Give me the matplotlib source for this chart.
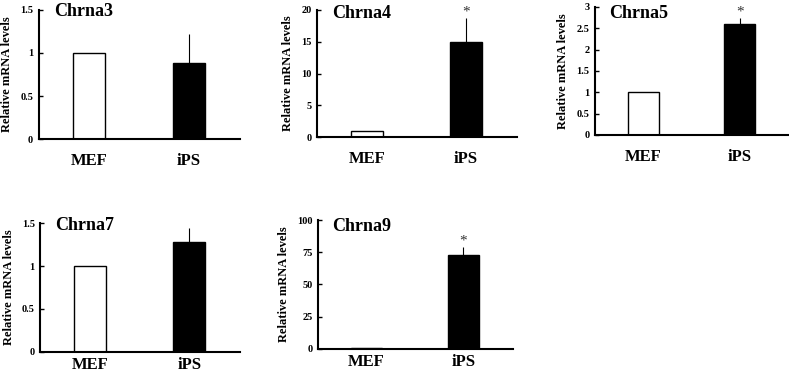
import matplotlib.pyplot as plt

# ===== data =====
genes = ["Chrna3", "Chrna4", "Chrna5", "Chrna7", "Chrna9"]
groups = ["MEF", "iPS"]
mef_values = [1.0, 1.0, 1.0, 1.0, 1.0]
ips_values = [0.88, 15.0, 2.6, 1.28, 72.5]
ips_errors = [0.34, 3.7, 0.13, 0.16, 6.5]
significant = [False, True, True, False, True]
y_max = [1.5, 20, 3, 1.5, 100]
y_ticks = [
    [0, 0.5, 1, 1.5],
    [0, 5, 10, 15, 20],
    [0, 0.5, 1, 1.5, 2, 2.5, 3],
    [0, 0.5, 1, 1.5],
    [0, 25, 50, 75, 100],
]
y_ticklabels = [
    ["0", "0.5", "1", "1.5"],
    ["0", "5", "10", "15", "20"],
    ["0", "0.5", "1", "1.5", "2", "2.5", "3"],
    ["0", "0.5", "1", "1.5"],
    ["0", "25", "50", "75", "100"],
]

# axes rectangles in figure fraction (left, bottom, width, height)
boxes = [
    [0.049, 0.634, 0.255, 0.340],
    [0.402, 0.639, 0.253, 0.335],
    [0.754, 0.645, 0.246, 0.337],
    [0.051, 0.074, 0.253, 0.339],
    [0.403, 0.082, 0.247, 0.339],
]
# distance of MEF / iPS labels below the axis (points)
label_pad = [10, 10, 10, 4, 4]
# top of the gene name, in figure pixels from the top
title_top_px = [3, 5, 5, 217, 218]

plt.rcParams['font.family'] = ['Liberation Serif', 'DejaVu Serif']
plt.rcParams['font.weight'] = 'bold'

fig = plt.figure(figsize=(7.89, 3.8), dpi=100)

for i, gene in enumerate(genes):
    ax = fig.add_axes(boxes[i])
    ax.bar([0], [mef_values[i]], width=0.32, color='white', edgecolor='black', linewidth=1)
    ax.bar([1], [ips_values[i]], width=0.32, color='black', edgecolor='black', linewidth=1)
    # only the upper half of the error bar
    ax.errorbar([1], [ips_values[i]], yerr=[[0], [ips_errors[i]]], fmt='none',
                ecolor='black', elinewidth=0.8, capsize=0)
    if significant[i]:
        ax.text(1, ips_values[i] + ips_errors[i], "*", ha='center', va='bottom',
                fontsize=11, fontweight='normal', color='#333333')

    ax.set_xlim(-0.5, 1.51)
    ax.set_ylim(0, y_max[i])
    ax.set_yticks(y_ticks[i])
    ax.set_yticklabels(y_ticklabels[i], fontsize=7.5, fontweight='bold')
    ax.set_xticks([0, 1])
    ax.set_xticklabels(groups, fontsize=12, fontweight='bold')
    ax.tick_params(axis='x', length=0, pad=label_pad[i])
    ax.tick_params(axis='y', direction='in', length=3, width=1, pad=4)
    ax.spines['top'].set_visible(False)
    ax.spines['right'].set_visible(False)
    ax.spines['left'].set_linewidth(1.5)
    ax.spines['bottom'].set_linewidth(1.5)
    ax.set_ylabel("Relative mRNA levels", fontsize=9, fontweight='bold', labelpad=5)
    fig.text(boxes[i][0] + 0.075 * boxes[i][2], 1 - title_top_px[i] / 380, gene,
             ha='left', va='top', fontsize=13, fontweight='bold')

fig.savefig("out.png", dpi=100)
